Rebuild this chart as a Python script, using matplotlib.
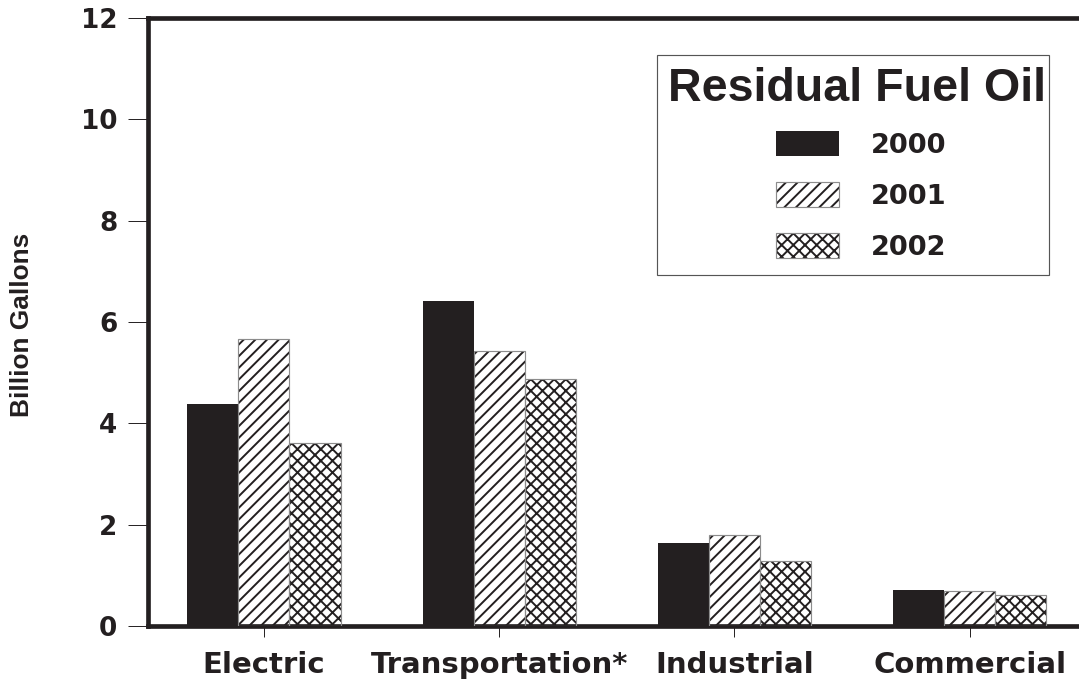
import matplotlib
matplotlib.use("Agg")
import matplotlib.pyplot as plt
from matplotlib.patches import Patch, Rectangle
import numpy as np

categories = ["Electric", "Transportation*", "Industrial", "Commercial"]
years = ["2000", "2001", "2002"]
v2000 = [4.38, 6.41, 1.63, 0.71]
v2001 = [5.66, 5.42, 1.80, 0.69]
v2002 = [3.61, 4.87, 1.29, 0.61]
yticks = [0, 2, 4, 6, 8, 10, 12]
ylabel = "Billion Gallons"
legend_title = "Residual Fuel Oil"

DARK = "#231f20"
DPI = 140
W, H = 1079, 679
plt.rcParams["hatch.linewidth"] = 1.0

fig = plt.figure(figsize=(W / DPI, H / DPI), dpi=DPI)
left = 148 / W
bottom = 1 - 626 / H
top = 1 - 18 / H
ax = fig.add_axes([left, bottom, 1 - left + 0.001, top - bottom])

x = np.arange(len(categories))
bw = 0.217
series = [v2000, v2001, v2002]
hatches = [None, "////", "xxxx"]
handles = []
for i, (vals, h) in enumerate(zip(series, hatches)):
    pos = x + (i - 1) * bw
    if h is None:
        ax.bar(pos, vals, bw, color=DARK, edgecolor=DARK, linewidth=0, zorder=2)
        handles.append(Patch(facecolor=DARK, edgecolor=DARK, linewidth=0))
    else:
        ax.bar(pos, vals, bw, facecolor="white", edgecolor=DARK, hatch=h,
               linewidth=0, zorder=2)
        ax.bar(pos, vals, bw, fill=False, edgecolor="#8c8c8c", linewidth=0.6, zorder=3)
        handles.append((Patch(facecolor="white", edgecolor=DARK, hatch=h, linewidth=0),
                        Patch(fill=False, edgecolor="#8c8c8c", linewidth=0.6)))

ax.set_xlim((148 - 263.8) / 235, (1079 - 263.8) / 235)
ax.set_ylim(0, 12)
ax.set_yticks(yticks)
ax.set_yticklabels([str(t) for t in yticks])
ax.set_xticks(x)
ax.set_xticklabels(categories)

for s in ["left", "bottom", "top"]:
    ax.spines[s].set_linewidth(2.4)
    ax.spines[s].set_color(DARK)
ax.spines["right"].set_visible(False)

ax.tick_params(axis="y", direction="out", length=10.3, width=0.5, color=DARK,
               pad=5.5, labelsize=13.5, labelcolor=DARK)
ax.tick_params(axis="x", direction="out", length=5.7, width=0.5, color=DARK,
               pad=7, labelsize=15, labelcolor=DARK)
for lab in ax.get_yticklabels() + ax.get_xticklabels():
    lab.set_fontfamily("DejaVu Sans")
    lab.set_fontweight("bold")

fig.text(22 / W, 1 - 325 / H, ylabel, rotation=90, ha="center", va="center",
         fontsize=13.5, fontweight="bold", family="Liberation Sans", color=DARK)

# legend: frame, title and entries
fig.patches.append(Rectangle((657 / W, 1 - 275 / H), (1049 - 657) / W, (275 - 55) / H,
                             transform=fig.transFigure, facecolor="white",
                             edgecolor="#555555", linewidth=0.6, zorder=4))
fig.text(856.5 / W, 1 - 101 / H, legend_title, ha="center", va="baseline",
         fontsize=24.0, fontweight="bold", family="Liberation Sans", color=DARK,
         zorder=5)
leg = fig.legend(handles, years, loc="upper left",
                 bbox_to_anchor=(776 / W, 1 - 131.5 / H), bbox_transform=fig.transFigure,
                 borderaxespad=0, borderpad=0, frameon=False,
                 handlelength=2.3, handleheight=1.0, handletextpad=1.2,
                 labelspacing=0.86,
                 prop={"family": "DejaVu Sans", "weight": "bold", "size": 14})
leg.set_zorder(6)
for t in leg.get_texts():
    t.set_color(DARK)

fig.savefig("out.png", dpi=DPI)
